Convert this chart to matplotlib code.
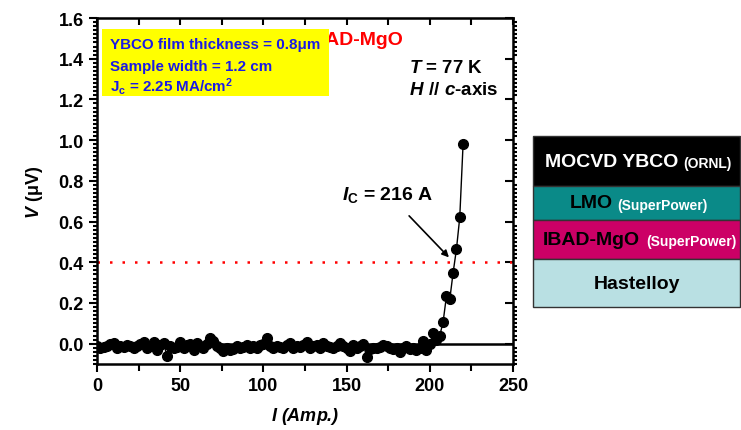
import matplotlib.pyplot as plt
from matplotlib.patches import Rectangle
from matplotlib.ticker import MultipleLocator

plt.rcParams['font.family'] = ['Liberation Sans', 'DejaVu Sans']
plt.rcParams['font.weight'] = 'bold'
plt.rcParams['axes.labelweight'] = 'bold'
plt.rcParams['mathtext.fontset'] = 'custom'
plt.rcParams['mathtext.rm'] = 'Liberation Sans:bold'
plt.rcParams['mathtext.it'] = 'Liberation Sans:bold:italic'
plt.rcParams['mathtext.bf'] = 'Liberation Sans:bold'

# current (A) and voltage (uV) readings
current = [0, 2, 4, 6, 8, 10, 12, 14, 16, 18, 20, 22, 24, 26, 28, 30, 32, 34, 36, 38,
           40, 42, 44, 46, 48, 50, 52, 54, 56, 58, 60, 62, 64, 66, 68, 70, 72, 74, 76, 78,
           80, 82, 84, 86, 88, 90, 92, 94, 96, 98, 100, 102, 104, 106, 108, 110, 112, 114, 116, 118,
           120, 122, 124, 126, 128, 130, 132, 134, 136, 138, 140, 142, 144, 146, 148, 150, 152, 154, 156, 158,
           160, 162, 164, 166, 168, 170, 172, 174, 176, 178, 180, 182, 184, 186, 188, 190, 192, 194, 196, 198,
           200, 202, 204, 206, 208, 210, 212, 214, 216, 218, 220]
voltage = [-0.01, -0.02, -0.015, -0.01, 0.0, 0.005, -0.02, -0.01, -0.015, -0.005, -0.01, -0.02, -0.01, 0.0, 0.01, -0.02, -0.01, 0.01, -0.03, -0.005,
           0.005, -0.06, -0.01, -0.02, -0.015, 0.01, -0.02, -0.005, 0.0, -0.03, 0.005, -0.01, -0.02, 0.0, 0.03, 0.015, -0.01, -0.02, -0.035, -0.02,
           -0.03, -0.025, -0.01, -0.02, -0.015, -0.005, -0.02, -0.01, -0.02, -0.005, 0.0, 0.03, -0.01, -0.02, -0.01, -0.015, -0.02, -0.005, 0.005, -0.02,
           -0.01, -0.015, -0.005, 0.01, -0.02, -0.01, -0.005, -0.02, 0.005, -0.01, -0.015, -0.02, -0.01, 0.005, -0.01, -0.02, -0.035, -0.005, -0.02, -0.01,
           0.0, -0.065, -0.025, -0.02, -0.02, -0.015, -0.005, -0.01, -0.02, -0.025, -0.02, -0.04, -0.02, -0.01, -0.025, -0.02, -0.03, -0.02, 0.015, -0.03,
           0.0, 0.05, 0.02, 0.04, 0.107, 0.233, 0.217, 0.348, 0.463, 0.62, 0.98]

ic_level = 0.4
ic_value = 216

fig = plt.figure(figsize=(7.41, 4.31), dpi=100)
ax = fig.add_axes([0.1309, 0.1531, 0.5614, 0.8028])

ax.plot(current, voltage, '-o', color='black', lw=1, ms=7, zorder=4)
ax.axhline(0, color='black', lw=1.8, zorder=2)
ax.axhline(ic_level, color='red', lw=1.8, ls=(0, (1, 4)), zorder=2)

ax.set_xlim(0, 250)
ax.set_ylim(-0.1, 1.6)
ax.xaxis.set_major_locator(MultipleLocator(50))
ax.xaxis.set_minor_locator(MultipleLocator(25))
ax.yaxis.set_major_locator(MultipleLocator(0.2))
ax.yaxis.set_minor_locator(MultipleLocator(0.02))
ax.set_yticks([0.0, 0.2, 0.4, 0.6, 0.8, 1.0, 1.2, 1.4, 1.6])
ax.set_yticklabels(['0.0', '0.2', '0.4', '0.6', '0.8', '1.0', '1.2', '1.4', '1.6'])

ax.tick_params(which='both', width=1.5, labelsize=13)
ax.tick_params(which='major', direction='out', length=6)
ax.tick_params(axis='x', which='minor', direction='out', length=5)
ax.tick_params(axis='y', which='minor', direction='out', length=3)
for s in ax.spines.values():
    s.set_linewidth(1.8)

# mirrored ticks on top and right
top = ax.secondary_xaxis('top')
top.xaxis.set_major_locator(MultipleLocator(50))
top.xaxis.set_minor_locator(MultipleLocator(25))
top.tick_params(which='both', direction='in', length=5, width=1.5, labeltop=False)
right = ax.secondary_yaxis('right')
right.yaxis.set_major_locator(MultipleLocator(0.2))
right.yaxis.set_minor_locator(MultipleLocator(0.02))
right.tick_params(which='major', direction='in', length=6, width=1.5, labelright=False)
right.tick_params(which='minor', direction='out', length=3, width=1.5)

ax.set_xlabel(r'$I$ (Amp.)', fontsize=13, style='italic', labelpad=8)
ax.set_ylabel(r'$V$ (μV)', fontsize=13, labelpad=10)

# title partly hidden by the sample box
ax.text(0.735, 0.938, 'YBCO on IBAD-MgO', transform=ax.transAxes, color='red',
        fontsize=14, ha='right', va='center', zorder=5)
ax.add_patch(Rectangle((0.012, 0.775), 0.546, 0.193, transform=ax.transAxes,
                       facecolor='#ffff00', edgecolor='none', zorder=6))
box_lines = ['YBCO film thickness = 0.8μm', 'Sample width = 1.2 cm',
             r'J$_\mathrm{c}$ = 2.25 MA/cm$^\mathrm{2}$']
for txt, yy in zip(box_lines, [0.925, 0.862, 0.804]):
    ax.text(0.031, yy, txt, transform=ax.transAxes, color='#1a1ae6',
            fontsize=10.9, ha='left', va='center', zorder=7)

ax.text(187.5, 1.355, r'$T$ = 77 K', fontsize=13.5, ha='left', va='center')
ax.text(187.5, 1.251, r'$H\ //\ c$-axis', fontsize=13.5, ha='left', va='center')

ax.annotate(r'$I_\mathrm{C}$ = 216 A', xy=(211.5, 0.424), xytext=(175, 0.735),
            fontsize=14, ha='center', va='center',
            arrowprops=dict(arrowstyle='-|>', color='black', lw=1.2,
                            shrinkA=9, shrinkB=0, mutation_scale=10))

# layer stack of the coated conductor
layers = [(0.566, 0.116, 'black'), (0.487, 0.079, '#0a8a88'),
          (0.397, 0.090, '#cc0066'), (0.285, 0.112, '#b9e0e3')]
for y0, h, c in layers:
    fig.patches.append(Rectangle((0.719, y0), 0.279, h, transform=fig.transFigure,
                                 facecolor=c, edgecolor='#333333', lw=1))

fig.text(0.735, 0.624, 'MOCVD YBCO', color='white', fontsize=14, va='center')
fig.text(0.922, 0.620, '(ORNL)', color='white', fontsize=10, va='center')
fig.text(0.769, 0.527, 'LMO', color='black', fontsize=14, va='center')
fig.text(0.833, 0.523, '(SuperPower)', color='white', fontsize=10, va='center')
fig.text(0.733, 0.442, 'IBAD-MgO', color='black', fontsize=14, va='center')
fig.text(0.872, 0.438, '(SuperPower)', color='white', fontsize=10, va='center')
fig.text(0.859, 0.340, 'Hastelloy', color='black', fontsize=14, ha='center', va='center')

fig.savefig('out.png', dpi=100)
